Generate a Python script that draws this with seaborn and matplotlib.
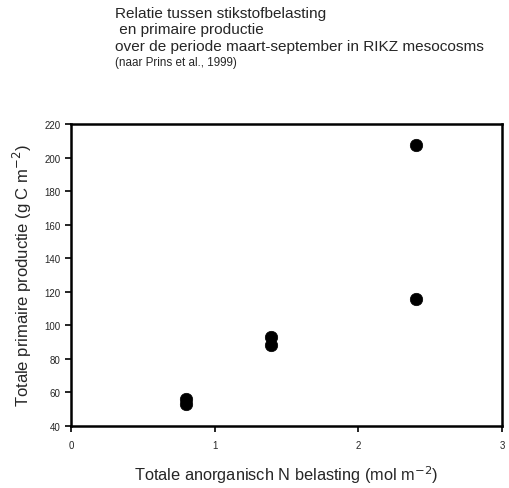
import numpy as np
import pandas as pd
import seaborn as sns
import matplotlib.pyplot as plt

# N load vs primary production
n_load = [0.8, 0.8, 1.39, 1.39, 2.4, 2.4]
prod = [56, 53, 93, 88, 207.5, 115.5]

x_ticks = [0, 1, 2, 3]
y_ticks = list(range(40, 221, 20))

df = pd.DataFrame({'N': n_load, 'P': prod})

sns.set_style('ticks')
plt.rcParams['font.family'] = ['Liberation Sans', 'DejaVu Sans']

fig = plt.figure(figsize=(5.09, 4.89), dpi=100)
ax = fig.add_axes([0.1395, 0.1268, 0.847, 0.6176])

sns.scatterplot(data=df, x='N', y='P', ax=ax, color='black', s=80,
                edgecolor='black', linewidth=0.5, legend=False)

ax.set_xlim(0, 3)
ax.set_ylim(40, 220)
ax.set_xticks(x_ticks)
ax.set_yticks(y_ticks)
ax.tick_params(labelsize=7, length=4, width=1.2, direction='out', color='black')
ax.tick_params(axis='x', pad=6)
for sp in ax.spines.values():
    sp.set_linewidth(1.8)
    sp.set_color('black')
    sp.set_visible(True)

ax.set_xlabel('Totale anorganisch N belasting (mol m$^{-2}$)', fontsize=11.8)
ax.set_ylabel('Totale primaire productie (g C m$^{-2}$)', fontsize=12)
ax.xaxis.set_label_coords(0.5, -0.122)
ax.yaxis.set_label_coords(-0.086, 0.5)

fig.text(0.226, 0.972, 'Relatie tussen stikstofbelasting', fontsize=11.1, va='center')
fig.text(0.226, 0.938, ' en primaire productie', fontsize=11.1, va='center')
fig.text(0.226, 0.904, 'over de periode maart-september in RIKZ mesocosms', fontsize=11.1, va='center')
fig.text(0.226, 0.871, '(naar Prins et al., 1999)', fontsize=8.4, va='center')

plt.savefig('out.png', dpi=100)
